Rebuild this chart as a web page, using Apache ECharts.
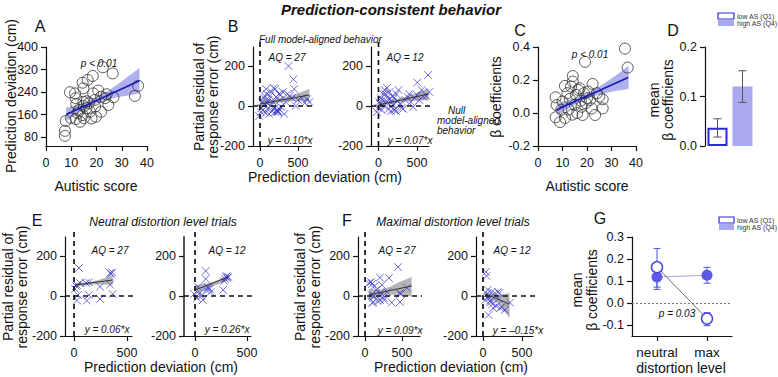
<!DOCTYPE html>
<html>
<head>
<meta charset="UTF-8">
<title>Prediction-consistent behavior</title>
<script src="https://cdn.jsdelivr.net/npm/echarts@6/dist/echarts.min.js"></script>
<style>
  html, body { margin: 0; padding: 0; background: #fff; }
  #container { width: 778px; height: 377px; }
</style>
</head>
<body>
<div id="container"></div>
<script>
// ---------- data ----------
// A: autistic score vs prediction deviation (cm)
var aPoints = [[7.5,102],[7.5,84],[7.8,137],[9.5,239],[11.5,235],[11.8,218],[12,197],[9.8,148],[11.8,144],[13.5,134],
  [14.5,273],[14.8,253],[16.5,283],[18.5,297],[22.5,328],[26.4,306],[14.8,205],[15,190],[13,176],[16,182],
  [17.4,170],[14.5,158],[15,147],[18,146],[19.8,152],[19.4,188],[19.4,212],[18.7,235],[20.7,245],[21.8,223],
  [21.8,170],[23.4,218],[24,232],[24.7,194],[26.7,221],[35.2,226],[36.5,262],[16.2,207],[12.5,165],[17,200]];
var aFit = [[8,160],[37,280]];
var aBandX = [8,12,16,20,24,28,32,37];
var aBandLo = [136,160,181,199,212,221,227,235];
var aBandHi = [184,193,205,221,240,265,292,325];

// B: partial residual vs prediction deviation, AQ = 27 / AQ = 12
var bLeftPoints = [[-10,-50],[10,-30],[20,-10],[30,20],[40,-20],[50,40],[60,10],[70,-35],[80,85],[90,60],
  [100,-15],[110,30],[120,-40],[130,50],[140,0],[150,70],[160,-25],[170,20],[180,90],[190,-10],
  [200,85],[200,-30],[210,45],[220,-20],[230,-25],[240,-30],[250,-15],[250,60],[260,30],[270,55],
  [280,-5],[300,70],[320,-40],[340,20],[360,60],[375,200],[390,50],[420,40],[440,133],[450,85],
  [470,0],[500,30],[550,40],[590,15],[620,35],[650,20],[230,-30],[240,-25],[90,15],[60,50]];
var bLeftFit = [[0,10],[650,55]];
var bLeftBandX = [0,100,200,300,400,500,650];
var bLeftBandLo = [-8,4,14,20,24,26,25];
var bLeftBandHi = [28,30,34,42,52,64,85];

var bRightPoints = [[-20,-30],[0,-10],[10,20],[20,10],[30,40],[40,-20],[50,30],[60,60],[70,0],[80,80],
  [90,60],[100,25],[110,90],[120,45],[130,-15],[140,70],[150,35],[160,-25],[170,20],[180,50],
  [190,5],[200,40],[210,-20],[230,60],[250,25],[260,80],[280,10],[300,-10],[320,-15],[350,30],
  [380,45],[400,60],[420,20],[450,-5],[470,40],[500,55],[504,117],[530,30],[560,80],[580,47],
  [620,50],[643,155],[660,70],[200,-20],[230,-25]];
var bRightFit = [[0,5],[650,60]];
var bRightBandX = [0,100,200,300,400,500,650];
var bRightBandLo = [-10,2,13,20,25,28,30];
var bRightBandHi = [20,25,31,40,53,66,90];

// C: autistic score vs beta coefficients
var cPoints = [[7.2,0.095],[7.2,-0.026],[9,-0.055],[11,0.164],[14.2,0.224],[14.2,0.19],[19.2,0.31],[7.6,0.048],
  [10,0.07],[12,0.12],[12.5,0.02],[13,0.085],[14,-0.01],[15,0.05],[15.5,0.11],[16,0.0],[16.5,0.14],
  [17,0.15],[17.5,0.075],[17.8,0.038],[18.2,-0.012],[18.8,0.12],[19.5,0.06],[20,0.09],[21.2,0.079],
  [21.9,0.028],[22.3,0.176],[23.3,-0.012],[24,0.12],[25,0.1],[26.4,0.083],[26.4,0.028],[35.5,0.39],
  [36.6,0.275],[9.5,0.02],[11,-0.03],[13.5,0.16],[20.5,0.13]];
var cFit = [[7.5,0.02],[36.8,0.215]];
var cBandX = [8,12,16,20,24,28,32,37];
var cBandLo = [-0.012,0.022,0.058,0.087,0.108,0.122,0.135,0.146];
var cBandHi = [0.058,0.078,0.094,0.119,0.152,0.19,0.231,0.286];

// D: mean beta coefficients by group
var dGroups = ['low AS (Q1)', 'high AS (Q4)'];
var dMeans = [0.037, 0.12];
var dErrLo = [0.018, 0.088];
var dErrHi = [0.055, 0.152];

// E: neutral distortion level trials
var eLeftPoints = [[10,35],[19,50],[28,55],[47,140],[38,5],[28,-22],[57,65],[113,65],[140,68],[122,-23],
  [140,5],[245,47],[245,-15],[340,115],[360,118],[350,112],[340,57],[365,10]];
var eLeftFit = [[10,55],[365,80]];
var eLeftBandX = [10,100,200,300,365];
var eLeftBandLo = [45,55,58,58,55];
var eLeftBandHi = [65,66,75,92,105];

var eRightPoints = [[-10,10],[30,45],[48,15],[77,-20],[103,125],[103,85],[110,30],[120,45],[130,40],[140,35],
  [150,20],[270,30],[290,85],[300,95],[305,100],[310,90],[320,95],[280,75],[60,0],[20,-10]];
var eRightFit = [[0,30],[320,95]];
var eRightBandX = [0,100,200,320];
var eRightBandLo = [5,35,55,78];
var eRightBandHi = [55,60,75,108];

// F: maximal distortion level trials
var fLeftPoints = [[50,65],[80,70],[95,60],[130,50],[100,-35],[110,-30],[90,5],[120,0],[200,92],[203,-20],
  [230,55],[230,10],[250,-10],[260,-20],[324,90],[300,20],[360,-33],[446,145],[473,15],[473,-30],
  [480,10],[568,40],[150,30],[170,-25],[210,15]];
var fLeftFit = [[50,5],[630,50]];
var fLeftBandX = [50,150,250,350,450,630];
var fLeftBandLo = [-28,-5,5,8,5,-3];
var fLeftBandHi = [38,30,36,48,67,95];

var fRightPoints = [[38,120],[45,100],[50,10],[60,-5],[70,-95],[90,-25],[100,-30],[110,20],[120,-40],[150,15],
  [170,-50],[190,20],[200,-15],[210,15],[220,-60],[240,-55],[280,-70],[345,-33],[80,-10],[130,-60],
  [30,-20],[60,30]];
var fRightFit = [[30,10],[340,-40]];
var fRightBandX = [30,100,200,340];
var fRightBandLo = [-5,-12,-40,-110];
var fRightBandHi = [25,10,5,15];

// G: mean beta coefficients by distortion level
var gLevels = ['neutral', 'max'];
var gLow = [0.163, -0.071];
var gLowErrLo = [0.062, -0.103];
var gLowErrHi = [0.248, -0.044];
var gHigh = [0.118, 0.126];
var gHighErrLo = [0.072, 0.09];
var gHighErrHi = [0.165, 0.162];

// tick values
var aXTicks = [0,10,20,30,40], aYTicks = [80,160,240,320,400];
var resXTicks = [0,500], resYTicks = [-200,0,200];
var cYTicks = [-0.2,0,0.2,0.4], dYTicks = [0,0.1,0.2], gYTicks = [-0.1,0,0.1,0.2,0.3];

// ---------- helpers ----------
var FONT = '"Liberation Sans", Arial, sans-serif';
var INK = '#111';

function fmt1(v) { return v.toFixed(1); }

function valAxis(gi, min, max, ticks, isX, opts) {
    opts = opts || {};
    return {
        type: 'value', gridIndex: gi, min: min, max: max,
        axisLine: {show: true, onZero: false, lineStyle: {color: opts.lineColor || INK, width: opts.lineWidth || 1.2}},
        axisTick: {show: true, length: 5, customValues: ticks, lineStyle: {color: INK, width: 1.2}},
        axisLabel: {customValues: ticks, fontSize: 12.5, fontFamily: FONT, color: INK,
            margin: isX ? 10 : 8, formatter: opts.fmt},
        splitLine: {show: false}
    };
}

function band(gi, xs, lo, hi, color) {
    return {
        type: 'custom', xAxisIndex: gi, yAxisIndex: gi, silent: true, z: 2,
        data: [[xs[0], lo[0]]],
        renderItem: function (params, api) {
            var pts = [], i;
            for (i = 0; i < xs.length; i++) pts.push(api.coord([xs[i], hi[i]]));
            for (i = xs.length - 1; i >= 0; i--) pts.push(api.coord([xs[i], lo[i]]));
            return {type: 'polygon', shape: {points: pts}, style: {fill: color}};
        }
    };
}

function fitLine(gi, pts, color, w) {
    return {type: 'line', xAxisIndex: gi, yAxisIndex: gi, data: pts, symbol: 'none', silent: true, z: 6,
        lineStyle: {color: color, width: w}};
}

function dash(gi, pts) {
    return {type: 'line', xAxisIndex: gi, yAxisIndex: gi, data: pts, symbol: 'none', silent: true,
        clip: false, z: 5, lineStyle: {color: INK, width: 1.7, type: [5, 4]}};
}

function crosses(gi, pts) {
    return {
        type: 'custom', xAxisIndex: gi, yAxisIndex: gi, data: pts, z: 3, silent: true,
        renderItem: function (params, api) {
            var p = api.coord([api.value(0), api.value(1)]);
            var s = 3.8, st = {stroke: 'rgba(60,60,205,0.75)', lineWidth: 1};
            return {type: 'group', children: [
                {type: 'line', shape: {x1: p[0] - s, y1: p[1] - s, x2: p[0] + s, y2: p[1] + s}, style: st},
                {type: 'line', shape: {x1: p[0] - s, y1: p[1] + s, x2: p[0] + s, y2: p[1] - s}, style: st}
            ]};
        }
    };
}

function circles(gi, pts) {
    return {type: 'scatter', xAxisIndex: gi, yAxisIndex: gi, data: pts, symbol: 'circle', symbolSize: 11,
        silent: true, z: 4,
        itemStyle: {color: 'rgba(255,255,255,0)', borderColor: '#333', borderWidth: 1}};
}

function errBars(gi, lo, hi, color, cap) {
    var d = lo.map(function (v, i) { return [i, v, hi[i]]; });
    return {
        type: 'custom', xAxisIndex: gi, yAxisIndex: gi, data: d, z: 3, silent: true,
        renderItem: function (params, api) {
            var a = api.coord([api.value(0), api.value(1)]);
            var b = api.coord([api.value(0), api.value(2)]);
            var st = {stroke: color, lineWidth: 1};
            return {type: 'group', children: [
                {type: 'line', shape: {x1: a[0], y1: a[1], x2: b[0], y2: b[1]}, style: st},
                {type: 'line', shape: {x1: a[0] - cap, y1: a[1], x2: a[0] + cap, y2: a[1]}, style: st},
                {type: 'line', shape: {x1: b[0] - cap, y1: b[1], x2: b[0] + cap, y2: b[1]}, style: st}
            ]};
        }
    };
}

function T(x, y, s, size, o) {
    o = o || {};
    return {type: 'text', x: x, y: y, rotation: o.rot ? Math.PI / 2 : 0, silent: true, z: 100,
        style: {text: s, fontSize: size, fontFamily: FONT, fontStyle: o.it ? 'italic' : 'normal',
            fontWeight: o.b ? 'bold' : 'normal', fill: o.c || INK, align: o.al || 'center', verticalAlign: 'middle'}};
}

function box(x, y, w, h, fill, stroke) {
    return {type: 'rect', shape: {x: x, y: y, width: w, height: h}, silent: true, z: 100,
        style: {fill: fill, stroke: stroke || null, lineWidth: stroke ? 1.2 : 0}};
}

// ---------- layout ----------
function g(l, t, w, h) { return {left: l, top: t, width: w, height: h, containLabel: false, outerBoundsMode: 'none'}; }
var grids = [
    g(46, 47, 101, 99),   // 0 A
    g(253, 47, 58, 99),   // 1 B left
    g(371, 47, 58, 99),   // 2 B right
    g(538, 47, 98, 99),   // 3 C
    g(705, 47, 50, 99),   // 4 D
    g(65, 237, 67, 99),   // 5 E left
    g(184, 237, 67, 99),  // 6 E right
    g(358, 237, 62, 99),  // 7 F left
    g(476, 237, 57, 99),  // 8 F right
    g(632, 237, 100, 99)  // 9 G
];

var xAxes = [
    valAxis(0, 0, 40, aXTicks, true),
    valAxis(1, -92, 671, resXTicks, true),
    valAxis(2, -97, 656, resXTicks, true),
    valAxis(3, 0, 40, aXTicks, true),
    {type: 'category', gridIndex: 4, data: dGroups, axisLine: {show: false}, axisTick: {show: false}, axisLabel: {show: false}},
    valAxis(5, -85, 547, resXTicks, true),
    valAxis(6, -106, 538, resXTicks, true),
    valAxis(7, -95, 743, resXTicks, true),
    valAxis(8, -90, 641, resXTicks, true),
    {type: 'category', gridIndex: 9, data: gLevels, boundaryGap: true,
        axisLine: {show: true, onZero: false, lineStyle: {color: INK, width: 1.2}},
        axisTick: {show: true, alignWithLabel: true, interval: 0, length: 5, lineStyle: {color: INK, width: 1.2}},
        axisLabel: {interval: 0, fontSize: 13.5, fontFamily: FONT, color: INK, margin: 9, hideOverlap: false}}
];

var yAxes = [
    valAxis(0, 48, 400, aYTicks, false),
    valAxis(1, -200, 295, resYTicks, false),
    valAxis(2, -200, 295, resYTicks, false),
    valAxis(3, -0.2, 0.4, cYTicks, false, {fmt: fmt1}),
    valAxis(4, 0, 0.2, dYTicks, false, {fmt: fmt1}),
    valAxis(5, -200, 295, resYTicks, false),
    valAxis(6, -200, 295, resYTicks, false, {lineColor: '#555', lineWidth: 2}),
    valAxis(7, -200, 295, resYTicks, false),
    valAxis(8, -200, 295, resYTicks, false),
    valAxis(9, -0.15, 0.3, gYTicks, false, {fmt: fmt1})
];

var BLUE_BAND = 'rgba(128,128,228,0.62)';
var GREY_BAND = 'rgba(150,150,150,0.7)';

var series = [
    // A
    band(0, aBandX, aBandLo, aBandHi, BLUE_BAND),
    fitLine(0, aFit, '#1a1ab4', 1.6),
    circles(0, aPoints),
    // B
    dash(1, [[0, -200], [0, 330]]), dash(1, [[-92, 0], [855, 0]]),
    band(1, bLeftBandX, bLeftBandLo, bLeftBandHi, GREY_BAND),
    crosses(1, bLeftPoints),
    fitLine(1, bLeftFit, '#333', 1),
    dash(2, [[0, -200], [0, 330]]), dash(2, [[-97, 0], [837, 0]]),
    band(2, bRightBandX, bRightBandLo, bRightBandHi, GREY_BAND),
    crosses(2, bRightPoints),
    fitLine(2, bRightFit, '#333', 1),
    // C
    band(3, cBandX, cBandLo, cBandHi, BLUE_BAND),
    fitLine(3, cFit, '#1a1ab4', 1.6),
    circles(3, cPoints),
    // D
    {type: 'bar', xAxisIndex: 4, yAxisIndex: 4, data: [dMeans[0], '-'], barWidth: 20, barGap: '-100%', silent: true,
        itemStyle: {color: '#fff', borderColor: '#2a2ad8', borderWidth: 2}},
    {type: 'bar', xAxisIndex: 4, yAxisIndex: 4, data: ['-', dMeans[1]], barWidth: 20, barGap: '-100%', silent: true,
        itemStyle: {color: '#a9a9ef'}},
    errBars(4, dErrLo, dErrHi, '#555', 4),
    // E
    dash(5, [[0, -200], [0, 320]]), dash(5, [[-85, 0], [594, 0]]),
    band(5, eLeftBandX, eLeftBandLo, eLeftBandHi, GREY_BAND),
    crosses(5, eLeftPoints),
    fitLine(5, eLeftFit, '#333', 1),
    dash(6, [[0, -200], [0, 320]]), dash(6, [[-106, 0], [606, 0]]),
    band(6, eRightBandX, eRightBandLo, eRightBandHi, GREY_BAND),
    crosses(6, eRightPoints),
    fitLine(6, eRightFit, '#333', 1),
    // F
    dash(7, [[0, -200], [0, 320]]), dash(7, [[-95, 0], [878, 0]]),
    band(7, fLeftBandX, fLeftBandLo, fLeftBandHi, GREY_BAND),
    crosses(7, fLeftPoints),
    fitLine(7, fLeftFit, '#333', 1),
    dash(8, [[0, -200], [0, 320]]), dash(8, [[-90, 0], [820, 0]]),
    band(8, fRightBandX, fRightBandLo, fRightBandHi, GREY_BAND),
    crosses(8, fRightPoints),
    fitLine(8, fRightFit, '#333', 1),
    // G
    errBars(9, gLowErrLo, gLowErrHi, '#5050dc', 3.5),
    errBars(9, gHighErrLo, gHighErrHi, '#5050dc', 3.5),
    {type: 'line', xAxisIndex: 9, yAxisIndex: 9, data: gHigh, symbol: 'circle', symbolSize: 11, z: 4, silent: true,
        itemStyle: {color: '#5a5ae6'}, lineStyle: {color: '#a8a8f0', width: 1},
        markLine: {silent: true, symbol: 'none', label: {show: false},
            lineStyle: {color: '#777', width: 1, type: [2, 2]}, data: [{yAxis: 0}]}},
    {type: 'line', xAxisIndex: 9, yAxisIndex: 9, data: gLow, symbol: 'circle', symbolSize: 11, z: 5, silent: true,
        itemStyle: {color: '#fff', borderColor: '#4646dc', borderWidth: 1.5}, lineStyle: {color: '#444', width: 0.8}}
];

var texts = [
    T(391, 9, 'Prediction-consistent behavior', 15, {b: true, it: true}),
    T(40, 26, 'A', 16), T(233, 26, 'B', 16), T(520, 30, 'C', 16), T(673, 30, 'D', 16),
    T(37, 220, 'E', 16), T(347, 220, 'F', 16), T(600, 218, 'G', 16),
    // A
    T(11, 96, 'Prediction deviation (cm)', 14, {rot: 1}),
    T(96, 186, 'Autistic score', 14),
    T(99, 63, 'p < 0.01', 10, {it: true}),
    // B
    T(199, 97, 'Partial residual of', 14, {rot: 1}),
    T(213, 97, 'response error (cm)', 14, {rot: 1}),
    T(325, 177, 'Prediction deviation (cm)', 14),
    T(259, 39, 'Full model-aligned behavior', 10, {it: true, al: 'left'}),
    T(287, 57, 'AQ = 27', 10, {it: true}), T(405, 57, 'AQ = 12', 10, {it: true}),
    T(290, 140, 'y = 0.10*x', 10, {it: true}), T(410, 140, 'y = 0.07*x', 10, {it: true}),
    T(448, 110, 'Null', 10, {it: true, al: 'left'}),
    T(437, 120, 'model-aligned', 10, {it: true, al: 'left'}),
    T(437, 130, 'behavior', 10, {it: true, al: 'left'}),
    // C
    T(496, 97, 'β coefficients', 14, {rot: 1}),
    T(587, 186, 'Autistic score', 14),
    T(590, 54, 'p < 0.01', 10, {it: true}),
    // D
    T(654, 100, 'mean', 14, {rot: 1}),
    T(668, 100, 'β coefficients', 14, {rot: 1}),
    box(718, 13, 16, 6, '#fff', '#2a2ad8'), box(718, 20, 16, 6, '#a9a9ef'),
    T(737, 16, 'low AS (Q1)', 7, {al: 'left', c: '#333'}),
    T(737, 23, 'high AS (Q4)', 7, {al: 'left', c: '#333'}),
    // E
    T(163, 222, 'Neutral distortion level trials', 12, {it: true}),
    T(8, 287, 'Partial residual of', 14, {rot: 1}),
    T(22, 287, 'response error (cm)', 14, {rot: 1}),
    T(161, 367, 'Prediction deviation (cm)', 14),
    T(110, 250, 'AQ = 27', 10, {it: true}), T(227, 250, 'AQ = 12', 10, {it: true}),
    T(107, 329, 'y = 0.06*x', 10, {it: true}), T(227, 329, 'y = 0.26*x', 10, {it: true}),
    // F
    T(453, 222, 'Maximal distortion level trials', 12, {it: true}),
    T(300, 287, 'Partial residual of', 14, {rot: 1}),
    T(315, 287, 'response error (cm)', 14, {rot: 1}),
    T(451, 367, 'Prediction deviation (cm)', 14),
    T(397, 250, 'AQ = 27', 10, {it: true}), T(512, 250, 'AQ = 12', 10, {it: true}),
    T(400, 330, 'y = 0.09*x', 10, {it: true}), T(518, 330, 'y = –0.15*x', 10, {it: true}),
    // G
    T(577, 290, 'mean', 14, {rot: 1}),
    T(592, 290, 'β coefficients', 14, {rot: 1}),
    T(681, 368, 'distortion level', 14),
    T(677, 313, 'p = 0.03', 10, {it: true}),
    box(719, 217, 15, 6, '#fff', '#2a2ad8'), box(719, 224, 15, 6, '#a9a9ef'),
    T(737, 220, 'low AS (Q1)', 7, {al: 'left', c: '#333'}),
    T(737, 227, 'high AS (Q4)', 7, {al: 'left', c: '#333'})
];

var myChart = echarts.init(document.getElementById('container'), null, {renderer: 'svg'});
myChart.setOption({
    animation: false,
    backgroundColor: '#fff',
    grid: grids,
    xAxis: xAxes,
    yAxis: yAxes,
    series: series,
    graphic: texts
});
</script>
</body>
</html>
